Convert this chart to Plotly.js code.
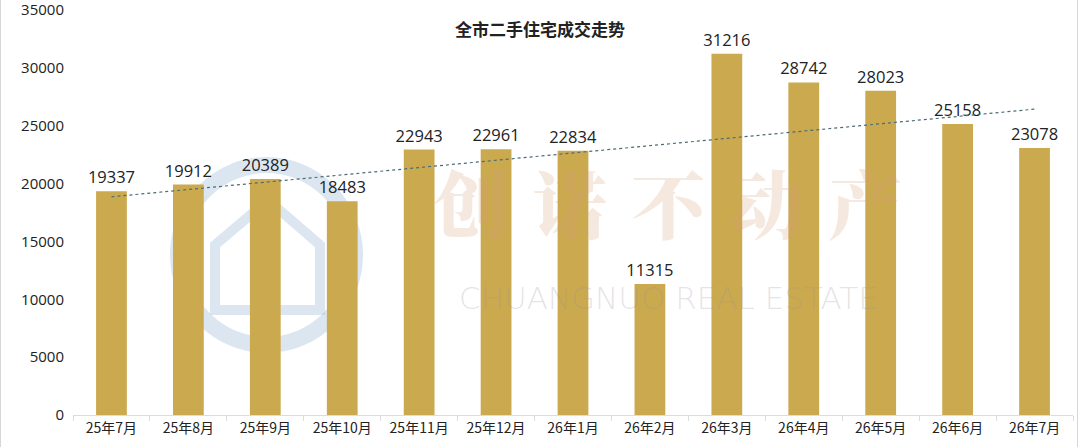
<!DOCTYPE html>
<html>
<head>
<meta charset="utf-8">
<script src="https://cdn.plot.ly/plotly-3.0.1.min.js"></script>
<style>html,body{margin:0;padding:0;background:#fff;}#chart{width:1080px;height:447px;}</style>
</head>
<body>
<div id="chart"></div>
<script>
const months = ['25年7月','25年8月','25年9月','25年10月','25年11月','25年12月','26年1月','26年2月','26年3月','26年4月','26年5月','26年6月','26年7月'];
const volumes = [19337,19912,20389,18483,22943,22961,22834,11315,31216,28742,28023,25158,23078];
const yTicks = [0,5000,10000,15000,20000,25000,30000,35000];

// linear trendline (least squares) computed from the data
const n = volumes.length;
const xs = volumes.map((_, i) => i);
const mx = xs.reduce((a,b)=>a+b,0)/n;
const my = volumes.reduce((a,b)=>a+b,0)/n;
let sxy = 0, sxx = 0;
xs.forEach((x,i)=>{ sxy += (x-mx)*(volumes[i]-my); sxx += (x-mx)*(x-mx); });
const slope = sxy/sxx, intercept = my - slope*mx;
const trend = xs.map(x => intercept + slope*x);

const fontNum = '"Open Sans", "Noto Sans CJK SC", sans-serif';
const fontCJK = '"Noto Sans CJK SC", "Open Sans", sans-serif';

const data = [
  {
    type: 'bar', x: months, y: volumes,
    marker: {color: '#CBA94F'},
    text: volumes.map(String), textposition: 'outside', constraintext: 'none',
    textfont: {family: fontNum, size: 16.5, color: '#222'},
    cliponaxis: false, hoverinfo: 'x+y'
  },
  {
    type: 'scatter', mode: 'lines', x: months, y: trend,
    line: {color: '#4a6d74', width: 1.2, dash: 'dot'},
    hoverinfo: 'skip'
  }
];

const px = v => (v - 73) / 1000;
const py = v => (415 - v) / 405;

const layout = {
  width: 1080, height: 447,
  margin: {l: 73, r: 7, t: 10, b: 32},
  paper_bgcolor: '#fff', plot_bgcolor: 'rgba(0,0,0,0)',
  showlegend: false,
  bargap: 0.6,
  title: {text: '全市二手住宅成交走势', x: 0.5, xanchor: 'center', y: 1 - 30/447, yref: 'container', yanchor: 'middle',
          font: {family: fontCJK, size: 17, color: '#222', weight: 600}},
  xaxis: {
    type: 'category', showgrid: false, zeroline: false,
    showline: true, linecolor: '#dcdcdc', linewidth: 1,
    ticks: 'outside', tickson: 'boundaries', ticklen: 5, tickcolor: '#dcdcdc',
    tickfont: {family: fontCJK, size: 14, color: '#222'}, automargin: false
  },
  yaxis: {
    range: [0, 35001], tickvals: yTicks, ticktext: yTicks.map(String),
    showgrid: false, zeroline: false, showline: false, ticks: '',
    ticklabelstandoff: 8, ticklabeloverflow: 'allow',
    tickfont: {family: fontNum, size: 15, color: '#222'}, automargin: false
  },
  shapes: [
    {type: 'circle', xref: 'paper', yref: 'paper', layer: 'below',
     x0: px(178), x1: px(355), y0: py(345), y1: py(165),
     line: {color: 'rgba(130,165,200,0.28)', width: 16}, fillcolor: 'rgba(0,0,0,0)'},
    {type: 'path', xref: 'paper', yref: 'paper', layer: 'below',
     path: 'M ' + px(215) + ' ' + py(310) + ' L ' + px(215) + ' ' + py(245) +
           ' L ' + px(268) + ' ' + py(200) + ' L ' + px(320) + ' ' + py(245) +
           ' L ' + px(320) + ' ' + py(310) + ' Z',
     line: {color: 'rgba(130,165,200,0.28)', width: 10}, fillcolor: 'rgba(0,0,0,0)'},
    {type: 'line', xref: 'paper', yref: 'paper', x0: px(0.5), x1: px(0.5), y0: py(447), y1: py(0),
     line: {color: '#d6d6d6', width: 1}},
    {type: 'line', xref: 'paper', yref: 'paper', x0: px(1077.5), x1: px(1077.5), y0: py(447), y1: py(0),
     line: {color: '#d6d6d6', width: 1}}
  ],
  annotations: [
    {text: '创\u2004诺\u2004不\u2004动\u2004产', xref: 'paper', yref: 'paper', x: px(668), y: py(201),
     xanchor: 'center', yanchor: 'middle', showarrow: false,
     font: {family: '"Noto Serif CJK SC", "Noto Sans CJK SC", serif', size: 74, color: 'rgba(215,160,120,0.24)', weight: 900}},
    {text: 'CHUANGNUO REAL ESTATE', xref: 'paper', yref: 'paper', x: px(668), y: py(298),
     xanchor: 'center', yanchor: 'middle', showarrow: false,
     font: {family: '"DejaVu Sans", sans-serif', size: 31, color: 'rgba(150,150,150,0.26)', weight: 300}}
  ]
};

Plotly.newPlot('chart', data, layout, {displayModeBar: false, staticPlot: true});
</script>
</body>
</html>
